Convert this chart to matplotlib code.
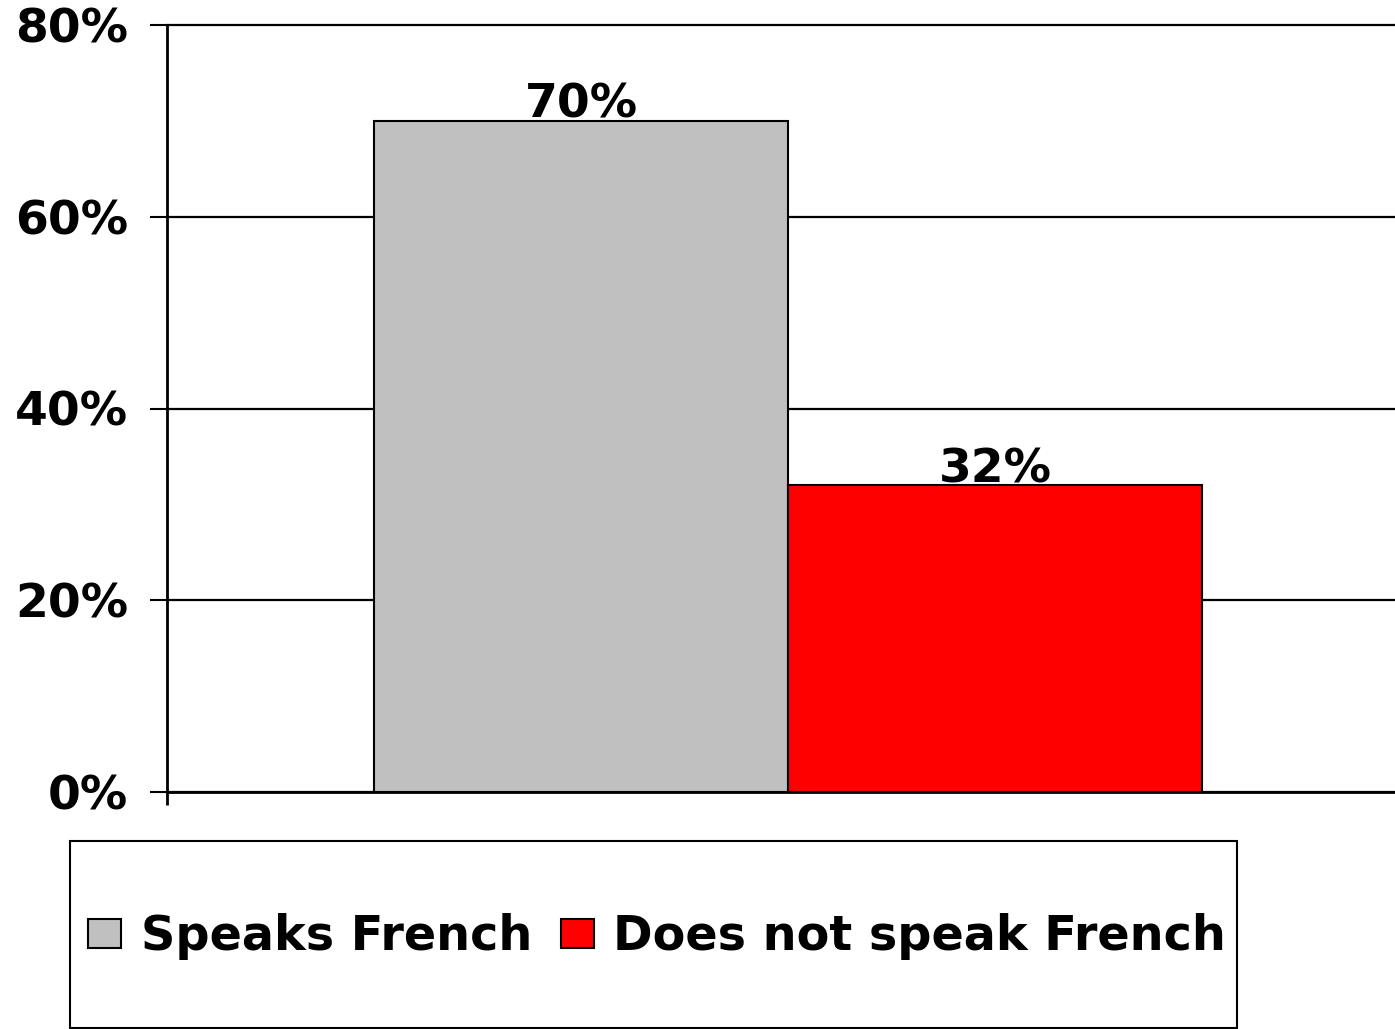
import matplotlib
matplotlib.use('Agg')
import matplotlib.pyplot as plt
from matplotlib.patches import Rectangle

series = ["Speaks French", "Does not speak French"]
values = [70, 32]
colors = ["#C0C0C0", "#FF0000"]
yticks = [0, 20, 40, 60, 80]
ytick_labels = ["0%", "20%", "40%", "60%", "80%"]

W, H = 1395, 1029
fig = plt.figure(figsize=(W/100, H/100), dpi=100)
# plot area runs a bit past the right edge, like the original
ax = fig.add_axes([167/W, 1-792/H, 1242/W, 767/H])

offsets = [-0.5, 0.5]
for off, v, c, name in zip(offsets, values, colors, series):
    ax.bar(off, v, width=1.0, color=c, edgecolor="black", linewidth=1.5,
           label=name, zorder=3)
    ax.text(off, v + 0.3, "%d%%" % v, ha="center", va="baseline",
            fontsize=34, fontweight="bold", zorder=4)

ax.set_xlim(-1.5, 1.5)
ax.set_ylim(0, 80)
ax.set_yticks(yticks)
ax.set_yticklabels(ytick_labels, fontsize=34, fontweight="bold")
ax.set_xticks([-1.5])
ax.set_xticklabels([""])
ax.tick_params(axis="y", direction="out", length=12, width=1.5, pad=16)
ax.tick_params(axis="x", direction="out", length=9, width=2)

ax.yaxis.grid(True, color="black", linewidth=1.6, zorder=0)
for ln in ax.get_ygridlines():
    ln.set_clip_on(False)
ax.set_axisbelow(True)
for s in ["top", "right"]:
    ax.spines[s].set_visible(False)
ax.spines["left"].set_linewidth(2)
ax.spines["bottom"].set_linewidth(2)
ax.spines["bottom"].set_zorder(5)

# legend box
fig.patches.append(Rectangle((70/W, 1-1028/H), 1167/W, 187/H, transform=fig.transFigure,
                             facecolor="white", edgecolor="black", linewidth=1.5))
fig.legend(loc="center", bbox_to_anchor=(657/W, 1-937/H), ncol=2, frameon=False,
           prop={"size": 34.4, "weight": "bold"}, handlelength=0.7, handleheight=0.53,
           handletextpad=0.4, columnspacing=0.6)

plt.savefig("out.png", dpi=100)
